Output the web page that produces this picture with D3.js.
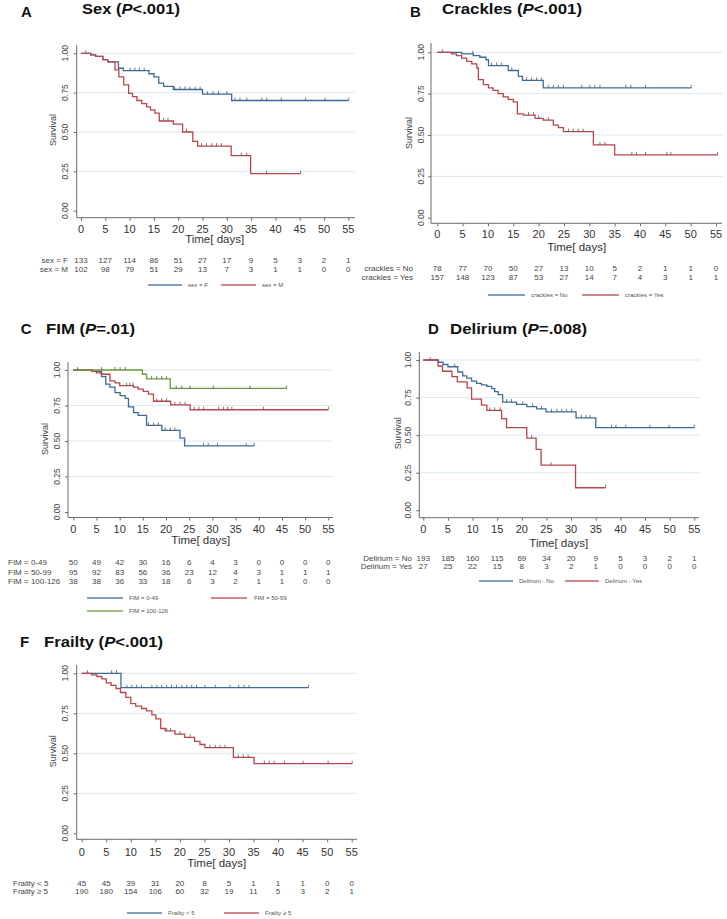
<!DOCTYPE html>
<html><head><meta charset="utf-8">
<script src="https://cdn.jsdelivr.net/npm/d3@7"></script>
<style>body{margin:0;background:#fff}svg{display:block}text{font-family:"Liberation Sans",Arial,sans-serif}</style>
</head><body><svg id="c" width="727" height="919"></svg>
<script>
// ---------- shared ticks ----------
const timeTicks = [0,5,10,15,20,25,30,35,40,45,50,55];
const survTicks = [0,0.25,0.5,0.75,1];
const survTickLabels = ["0.00","0.25","0.50","0.75","1.00"];
const timeLabel = "Time[ days]";
const survLabel = "Survival";

// ---------- Panel A: Sex ----------
const sexF_t = [0,2,3,4.5,5.5,7.7,8.7,14,15,16,17,19,25,31,55.1];
const sexF_s = [1,0.99,0.98,0.96,0.945,0.905,0.89,0.87,0.85,0.81,0.79,0.77,0.74,0.70,0.70];
const sexF_c = [1,10.1,11.1,12,13,19.3,20.4,21.4,22.4,23.5,24.5,26,27.2,28.3,30,31.7,32.7,34.1,37.2,38.2,41.2,46.2,50.2,55.1];
const sexM_t = [0,2,3,4.5,5.5,7,7.8,8.8,9.8,10.6,11.5,12.5,13.5,14.3,15.2,16.1,19,20.9,23,24,30.9,34.9,45.2];
const sexM_s = [1,0.99,0.98,0.96,0.945,0.895,0.85,0.80,0.745,0.725,0.70,0.68,0.66,0.64,0.62,0.57,0.55,0.50,0.44,0.41,0.35,0.235,0.235];
const sexM_c = [17,17.9,21.7,24.8,25.8,26.9,27.9,28.9,33,34.1,38.2,45.2];
const sexRiskF = [133,127,114,86,51,27,17,9,5,3,2,1];
const sexRiskM = [102,98,79,51,29,13,7,3,1,1,0,0];

// ---------- Panel B: Crackles ----------
const crNo_t = [0,4.8,7.1,8.4,9.6,10.1,14,16,16.8,20.9,50.1];
const crNo_s = [1,0.99,0.98,0.97,0.955,0.92,0.89,0.855,0.83,0.785,0.785];
const crNo_c = [7,10.7,11.7,12.7,14.7,17.6,18.6,19.6,20.6,21.9,22.9,23.9,24.9,28.5,30.1,31.1,32.1,37.2,38.2,41.1,50.1];
const crYes_t = [0,2.8,3.8,4.8,5.8,6.8,7.8,8.1,9.1,10.1,11,12,13,14,15,15.8,17,19.3,20.9,22.9,23.9,24.9,30.8,35,55.3];
const crYes_s = [1,0.99,0.98,0.965,0.945,0.93,0.905,0.835,0.805,0.785,0.77,0.75,0.73,0.715,0.70,0.628,0.62,0.60,0.59,0.56,0.545,0.52,0.44,0.38,0.38];
const crYes_c = [1,18,19,20,21.9,25.9,26.8,27.8,28.8,32.1,33.1,38.4,39.3,41.1,45.3,46.1,55.3];
const crRiskNo = [78,77,70,50,27,13,10,5,2,1,1,0];
const crRiskYes = [157,148,123,87,53,27,14,7,4,3,1,1];

// ---------- Panel C: FIM ----------
const fimLow_t = [0,4,6.1,7,7.9,9,10.1,11.2,11.9,13,14,15.8,19.1,23,24,39];
const fimLow_s = [1,0.99,0.953,0.90,0.88,0.84,0.82,0.80,0.74,0.70,0.68,0.61,0.575,0.52,0.465,0.465];
const fimLow_c = [16.2,17.3,18.3,19.8,20.9,21.9,28.1,29.1,31.1,37.3,39];
const fimMid_t = [0,4,5,6,7.9,9,10,13,14,15.1,16.2,17.3,21,25.2,55];
const fimMid_s = [1,0.99,0.98,0.97,0.923,0.91,0.89,0.88,0.865,0.85,0.83,0.78,0.755,0.72,0.72];
const fimMid_c = [11.5,12.2,12.9,18,19.1,20.1,21.9,23,24.1,26.1,27.1,28.1,31.3,32.4,33.3,34.2,41,55];
const fimHigh_t = [0,14.9,15.8,20.9,46];
const fimHigh_s = [1,0.97,0.937,0.87,0.87];
const fimHigh_c = [0.9,6.1,9,10.1,11.2,16.9,18,19.1,20.1,22.2,23.4,25.2,30.2,38.1,46];
const fimRiskLow = [50,49,42,30,16,6,4,3,0,0,0,0];
const fimRiskMid = [95,92,83,56,36,23,12,4,3,1,1,1];
const fimRiskHigh = [38,38,36,33,18,6,3,2,1,1,0,0];

// ---------- Panel D: Delirium ----------
const delNo_t = [0,3,4,5,7,8,8.8,9.8,10.8,11.8,12.9,13.9,14.5,15.2,16.1,18.9,21,23,24.9,31,35,55];
const delNo_s = [1,0.985,0.97,0.955,0.92,0.895,0.88,0.86,0.845,0.835,0.825,0.81,0.79,0.77,0.72,0.705,0.69,0.675,0.655,0.615,0.55,0.55];
const delNo_c = [1.4,6.4,16.9,17.9,20.2,22.2,24,26,27.1,28.1,29.1,30.1,32.1,33,33.8,38.2,39.1,41.1,46,49.9,55];
const delYes_t = [0,3,3.9,5.8,6.9,8.9,9.8,11.8,12.9,15.9,16.9,21,22.9,23.9,30.9,37];
const delYes_s = [1,0.96,0.925,0.89,0.855,0.815,0.74,0.70,0.665,0.61,0.55,0.48,0.405,0.30,0.15,0.15];
const delYes_c = [13.5,14.5,15.6,22,25.9,37];
const delRiskNo = [193,185,160,115,69,34,20,9,5,3,2,1];
const delRiskYes = [27,25,22,15,8,3,2,1,0,0,0,0];

// ---------- Panel F: Frailty ----------
const frLow_t = [0,8,46.2];
const frLow_s = [1,0.91,0.91];
const frLow_c = [1.2,6.1,7.1,9.2,10.2,11.2,12.2,14.3,15.3,16.3,17.3,18.3,19.3,20.4,21.4,22.4,23.4,25.1,27.2,30.2,32,33.1,34.1,46.2];
const frHigh_t = [0,2,3.1,4.1,5,6,7,7.9,9,10,11,12.2,13.2,14.3,15.1,16.1,17,19,21,23,24.1,25.1,30.9,35.1,55.1];
const frHigh_s = [1,0.99,0.98,0.965,0.94,0.925,0.905,0.88,0.85,0.81,0.795,0.78,0.765,0.74,0.715,0.655,0.64,0.62,0.60,0.575,0.555,0.535,0.475,0.435,0.435];
const frHigh_c = [17.3,18.1,20,22.1,26.1,27.2,28.2,29.2,31.9,32.9,33.9,37.2,38.2,39.2,41.3,45.1,50.2,55.1];
const frRiskLow = [45,45,39,31,20,8,5,1,1,1,0,0];
const frRiskHigh = [190,180,154,106,60,32,19,11,5,3,2,1];

// ---------- styles ----------
const BLUE = "#3d6b99", RED = "#b9464e", GREEN = "#6c9a3a";
const GRID = "#dbe9f3", AXIS = "#6a6a6a";

const svg = d3.select("#c");

function drawPanel(p) {
  const g = svg.append("g");
  const x = d3.scaleLinear().domain([0,55]).range([p.x0, p.x55]);
  const y = d3.scaleLinear().domain([0,1]).range([p.yb, p.yt]);

  g.selectAll("line.grid").data(survTicks.filter(v => v > 0)).join("line")
    .attr("x1", p.axisX).attr("x2", p.gridEnd)
    .attr("y1", d => y(d)).attr("y2", d => y(d))
    .attr("stroke", GRID).attr("stroke-width", 1);

  const ya = g.append("g").attr("transform", `translate(${p.axisX},0)`)
    .call(d3.axisLeft(y).tickValues(survTicks).tickSize(3).tickFormat(""));
  ya.select(".domain").remove();
  ya.selectAll("line").attr("stroke", AXIS);
  const xa = g.append("g").attr("transform", `translate(0,${p.axisY})`)
    .call(d3.axisBottom(x).tickValues(timeTicks).tickSize(3).tickFormat(""));
  xa.select(".domain").remove();
  xa.selectAll("line").attr("stroke", AXIS);
  g.append("line").attr("x1", p.axisX).attr("x2", p.axisX).attr("y1", p.axisTop).attr("y2", p.axisY)
    .attr("stroke", AXIS).attr("stroke-width", 1);
  g.append("line").attr("x1", p.axisX).attr("x2", p.axisRight).attr("y1", p.axisY).attr("y2", p.axisY)
    .attr("stroke", AXIS).attr("stroke-width", 1);

  g.selectAll("text.yt").data(survTicks).join("text")
    .attr("transform", d => `translate(${p.ytickX},${y(d)}) rotate(-90)`)
    .attr("text-anchor", "middle").attr("font-size", 8.5).attr("fill", "#444")
    .text((d, i) => survTickLabels[i]);
  g.append("text").attr("transform", `translate(${p.survX},${y(0.5) - 2}) rotate(-90)`)
    .attr("text-anchor", "middle").attr("font-size", 9).attr("fill", "#444").text(survLabel);

  g.selectAll("text.xt").data(timeTicks).join("text")
    .attr("x", d => x(d)).attr("y", p.tickLabelY - 0.5)
    .attr("text-anchor", "middle").attr("font-size", 11).attr("fill", "#333")
    .text(d => d);
  g.append("text").attr("x", x(27.5)).attr("y", p.timeY + 1).attr("text-anchor", "middle")
    .attr("font-size", 11.5).attr("fill", "#333").text(timeLabel);

  const line = d3.line().x(d => x(d[0])).y(d => y(d[1])).curve(d3.curveStepAfter);
  p.series.forEach(s => {
    g.append("path").attr("d", line(d3.zip(s.t, s.s))).attr("fill", "none")
      .attr("stroke", s.color).attr("stroke-width", 1.3);
    g.selectAll(null).data(s.c).join("line")
      .attr("x1", c => x(c)).attr("x2", c => x(c))
      .attr("y1", c => y(s.s[Math.max(0, d3.bisectRight(s.t, c) - 1)]))
      .attr("y2", c => y(s.s[Math.max(0, d3.bisectRight(s.t, c) - 1)]) - 3)
      .attr("stroke", "#555").attr("stroke-width", 0.8);
  });

  p.risk.forEach((r, ri) => {
    g.append("text").attr("x", p.riskLabelX).attr("y", p.riskY[ri])
      .attr("text-anchor", p.riskAnchor).attr("font-size", 8).attr("fill", "#444").text(r.label);
    g.selectAll(null).data(r.values).join("text")
      .attr("x", (d, i) => x(timeTicks[i])).attr("y", p.riskY[ri])
      .attr("text-anchor", "middle").attr("font-size", 8).attr("fill", "#444").text(d => d);
  });

  p.legend.forEach(l => {
    g.append("line").attr("x1", l.x1).attr("x2", l.x2).attr("y1", l.y).attr("y2", l.y)
      .attr("stroke", l.color).attr("stroke-width", 1.6).attr("opacity", 0.85);
    g.append("text").attr("x", l.tx).attr("y", l.y + 2).attr("font-size", 6).attr("fill", "#555").text(l.label);
  });

  svg.append("text").attr("x", p.letterX).attr("y", p.letterY).attr("font-size", 15)
    .attr("font-weight", "bold").attr("fill", "#111").text(p.letter);
  const t = svg.append("text").attr("x", p.titleX).attr("y", p.titleY).attr("font-size", 15)
    .attr("font-weight", "bold").attr("fill", "#111")
    .attr("textLength", p.titleW).attr("lengthAdjust", "spacingAndGlyphs");
  t.append("tspan").text(p.title[0]);
  t.append("tspan").attr("font-style", "italic").text("P");
  t.append("tspan").text(p.title[1]);
}

drawPanel({
  x0: 81, x55: 348.3, yt: 53.3, yb: 210.7, axisX: 76.7, axisY: 217.7, axisTop: 45, axisRight: 355, gridEnd: 355,
  ytickX: 68, survX: 56, tickLabelY: 233, timeY: 242,
  series: [
    {t: sexF_t, s: sexF_s, c: sexF_c, color: BLUE},
    {t: sexM_t, s: sexM_s, c: sexM_c, color: RED}],
  risk: [{label: "sex = F", values: sexRiskF}, {label: "sex = M", values: sexRiskM}],
  riskY: [263, 272], riskLabelX: 68, riskAnchor: "end",
  legend: [{x1: 148, x2: 182, tx: 188, y: 285, color: BLUE, label: "sex = F"},
           {x1: 221, x2: 256, tx: 262, y: 285, color: RED, label: "sex = M"}],
  letter: "A", letterX: 21, letterY: 16.7, title: ["Sex (", "<.001)"], titleX: 82, titleY: 13.5, titleW: 98
});

drawPanel({
  x0: 437.3, x55: 716, yt: 52.3, yb: 217.7, axisX: 431, axisY: 223.3, axisTop: 43, axisRight: 722, gridEnd: 723,
  ytickX: 424, survX: 412, tickLabelY: 238, timeY: 250,
  series: [
    {t: crNo_t, s: crNo_s, c: crNo_c, color: BLUE},
    {t: crYes_t, s: crYes_s, c: crYes_c, color: RED}],
  risk: [{label: "crackles = No", values: crRiskNo}, {label: "crackles = Yes", values: crRiskYes}],
  riskY: [271, 280], riskLabelX: 413, riskAnchor: "end",
  legend: [{x1: 488, x2: 525, tx: 531, y: 295, color: BLUE, label: "crackles = No"},
           {x1: 582, x2: 619, tx: 625, y: 295, color: RED, label: "crackles = Yes"}],
  letter: "B", letterX: 410, letterY: 16.7, title: ["Crackles (", "<.001)"], titleX: 442, titleY: 13.5, titleW: 140
});

drawPanel({
  x0: 73.3, x55: 328.3, yt: 370, yb: 512, axisX: 68, axisY: 517.5, axisTop: 362, axisRight: 333, gridEnd: 333,
  ytickX: 59.5, survX: 48, tickLabelY: 533, timeY: 543,
  series: [
    {t: fimLow_t, s: fimLow_s, c: fimLow_c, color: BLUE},
    {t: fimMid_t, s: fimMid_s, c: fimMid_c, color: RED},
    {t: fimHigh_t, s: fimHigh_s, c: fimHigh_c, color: GREEN}],
  risk: [{label: "FIM = 0-49", values: fimRiskLow}, {label: "FIM = 50-99", values: fimRiskMid},
         {label: "FIM = 100-126", values: fimRiskHigh}],
  riskY: [565, 575, 584], riskLabelX: 8, riskAnchor: "start",
  legend: [{x1: 87, x2: 123, tx: 129, y: 598, color: BLUE, label: "FIM = 0-49"},
           {x1: 211, x2: 247, tx: 254, y: 598, color: RED, label: "FIM = 50-99"},
           {x1: 87, x2: 123, tx: 129, y: 611, color: GREEN, label: "FIM = 100-126"}],
  letter: "C", letterX: 20.7, letterY: 334, title: ["FIM (", "=.01)"], titleX: 46, titleY: 334, titleW: 89
});

drawPanel({
  x0: 423.3, x55: 694.3, yt: 360, yb: 510.3, axisX: 419.3, axisY: 517.7, axisTop: 352, axisRight: 699, gridEnd: 700,
  ytickX: 411, survX: 401, tickLabelY: 533, timeY: 546,
  series: [
    {t: delNo_t, s: delNo_s, c: delNo_c, color: BLUE},
    {t: delYes_t, s: delYes_s, c: delYes_c, color: RED}],
  risk: [{label: "Delirium = No", values: delRiskNo}, {label: "Delirium = Yes", values: delRiskYes}],
  riskY: [561, 568.5], riskLabelX: 412, riskAnchor: "end",
  legend: [{x1: 479, x2: 513, tx: 519, y: 581, color: BLUE, label: "Delirium - No"},
           {x1: 565, x2: 599, tx: 605, y: 581, color: RED, label: "Delirium - Yes"}],
  letter: "D", letterX: 428, letterY: 334, title: ["Delirium (", "=.008)"], titleX: 450, titleY: 334, titleW: 137
});

drawPanel({
  x0: 81.7, x55: 351.7, yt: 673.3, yb: 833.3, axisX: 76.7, axisY: 839.3, axisTop: 665, axisRight: 357, gridEnd: 357,
  ytickX: 68, survX: 56, tickLabelY: 856, timeY: 866,
  series: [
    {t: frLow_t, s: frLow_s, c: frLow_c, color: BLUE},
    {t: frHigh_t, s: frHigh_s, c: frHigh_c, color: RED}],
  risk: [{label: "Frailty < 5", values: frRiskLow}, {label: "Frailty \u2265 5", values: frRiskHigh}],
  riskY: [886, 894], riskLabelX: 13, riskAnchor: "start",
  legend: [{x1: 127, x2: 162, tx: 168, y: 913, color: BLUE, label: "Frailty < 5"},
           {x1: 224, x2: 259, tx: 265, y: 913, color: RED, label: "Frailty \u2265 5"}],
  letter: "F", letterX: 20, letterY: 646.7, title: ["Frailty (", "<.001)"], titleX: 44, titleY: 646.7, titleW: 119
});
</script></body></html>
